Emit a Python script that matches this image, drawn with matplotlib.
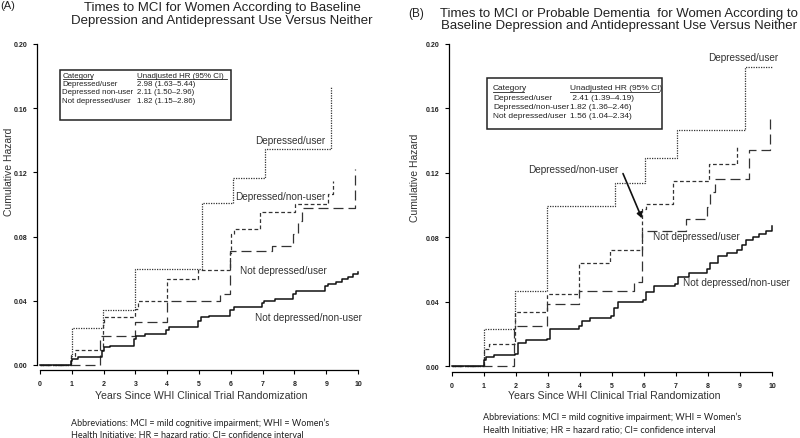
import matplotlib
matplotlib.use("Agg")
import matplotlib.pyplot as plt

plt.rcParams['font.family'] = ['Liberation Sans', 'DejaVu Sans']

W, H = 800, 439

# ---------------- data: panel A ----------------
a_dep_user_t = [0, 0.97, 1.0, 1.97, 2.99, 5.08, 6.08, 7.08, 9.14]
a_dep_user_h = [0, 0.006, 0.023, 0.0345, 0.0598, 0.1007, 0.1163, 0.1346, 0.1732]

a_dep_non_t = [0, 0.97, 1.1, 1.97, 2.02, 2.99, 3.08, 3.98, 4.98, 5.97, 6.02, 6.1, 6.92, 8.02, 9.06, 9.2]
a_dep_non_h = [0, 0.0058, 0.0095, 0.025, 0.030, 0.0349, 0.040, 0.0536, 0.0594, 0.070, 0.0816, 0.0847, 0.0955, 0.1001, 0.1065, 0.1148]

a_nd_user_t = [0, 1.89, 2.99, 3.98, 5.66, 5.97, 7.29, 7.97, 8.11, 8.23, 9.91]
a_nd_user_h = [0, 0.0183, 0.0266, 0.040, 0.0442, 0.0712, 0.0743, 0.0816, 0.090, 0.098, 0.122]

a_nd_non_t = [0, 0.97, 1.0, 1.2, 1.96, 2.0, 2.2, 2.97, 3.03, 3.3, 3.97, 4.05, 4.98, 5.05, 5.3,
              5.99, 6.1, 6.99, 7.05, 7.4, 7.97, 8.05, 8.97, 9.05, 9.3, 9.5, 9.7, 9.85, 10.0]
a_nd_non_h = [0, 0.0025, 0.0037, 0.0048, 0.0085, 0.0110, 0.0120, 0.0160, 0.0179, 0.0193, 0.0215, 0.0235,
              0.0275, 0.0297, 0.0307, 0.0340, 0.0360, 0.0385, 0.0401, 0.0411, 0.0445, 0.0463, 0.0490,
              0.0505, 0.0520, 0.0536, 0.0550, 0.0565, 0.0578]

# ---------------- data: panel B ----------------
b_dep_user_t = [0, 0.99, 1.98, 2.97, 5.1, 6.04, 7.03, 9.17, 10.0]
b_dep_user_h = [0, 0.023, 0.0468, 0.0996, 0.1137, 0.129, 0.1468, 0.186, 0.186]

b_dep_non_t = [0, 0.99, 1.15, 1.98, 2.97, 3.96, 4.95, 5.94, 6.05, 6.9, 8.02, 8.9]
b_dep_non_h = [0, 0.0106, 0.0137, 0.0337, 0.0447, 0.064, 0.0723, 0.0975, 0.1006, 0.115, 0.1255, 0.136]

b_nd_user_t = [0, 1.93, 2.97, 3.96, 5.68, 5.94, 7.3, 7.97, 8.07, 8.23, 9.27, 9.95]
b_nd_user_h = [0, 0.025, 0.0385, 0.0468, 0.052, 0.084, 0.0913, 0.0986, 0.108, 0.116, 0.134, 0.155]

b_nd_non_t = [0, 0.99, 1.05, 1.3, 1.98, 2.05, 2.3, 2.97, 3.05, 3.97, 4.05, 4.3, 4.97, 5.05, 5.2,
              5.97, 6.05, 6.3, 6.97, 7.05, 7.4, 7.97, 8.05, 8.3, 8.6, 8.9, 9.05, 9.2, 9.4, 9.6, 9.8, 10.0]
b_nd_non_h = [0, 0.004, 0.0054, 0.0070, 0.0075, 0.0140, 0.0160, 0.0170, 0.0230, 0.0246, 0.028, 0.030,
              0.031, 0.036, 0.0395, 0.041, 0.046, 0.050, 0.051, 0.055, 0.058, 0.060, 0.064, 0.0685,
              0.070, 0.072, 0.075, 0.078, 0.080, 0.082, 0.084, 0.087]

x_ticks = list(range(0, 11))
y_ticks = [0.00, 0.04, 0.08, 0.12, 0.16, 0.20]
y_tick_labels = ['0.00', '0.04', '0.08', '0.12', '0.16', '0.20']

titles = [
    ("(A)", "Times to MCI for Women According to Baseline\nDepression and Antidepressant Use Versus Neither"),
    ("(B)", "Times to MCI or Probable Dementia  for Women According to\nBaseline Depression and Antidepressant Use Versus Neither"),
]
legend_rows = [
    [("Category", "Unadjusted HR (95% CI)"),
     ("Depressed/user", "2.98 (1.63\u20135.44)"),
     ("Depressed non-user", "2.11 (1.50\u20132.96)"),
     ("Not depressed/user", "1.82 (1.15\u20132.86)")],
    [("Category", "Unadjusted HR (95% CI)"),
     ("Depressed/user", " 2.41 (1.39\u20134.19)"),
     ("Depressed/non-user", "1.82 (1.36\u20132.46)"),
     ("Not depressed/user", "1.56 (1.04\u20132.34)")],
]
curve_labels = ["Depressed/user", "Depressed/non-user", "Not depressed/user", "Not depressed/non-user"]
xlabel = "Years Since WHI Clinical Trial Randomization"
ylabel = "Cumulative Hazard"
abbrev = "Abbreviations: MCI = mild cognitive impairment; WHI = Women\u2019s\nHealth Initiative; HR = hazard ratio; CI= confidence interval"

fig = plt.figure(figsize=(W / 100, H / 100), dpi=100)


def make_axes(x0px, x10px, y0px, y20px, spine_x, spine_y):
    ppx = (x10px - x0px) / 10.0
    ppy = (y0px - y20px) / 0.2
    xmin = -(x0px - spine_x) / ppx
    ymin = -(spine_y - y0px) / ppy
    xmax, ymax = 10.12, 0.205
    left = spine_x
    right = x0px + xmax * ppx
    bottom = spine_y
    top = y0px - ymax * ppy
    ax = fig.add_axes([left / W, 1 - bottom / H, (right - left) / W, (bottom - top) / H])
    ax.set_xlim(xmin, xmax)
    ax.set_ylim(ymin, ymax)
    ax.patch.set_alpha(0)
    for s in ['top', 'right']:
        ax.spines[s].set_visible(False)
    ax.spines['left'].set_bounds(0, 0.2)
    ax.spines['bottom'].set_bounds(0, 10)
    for s in ['left', 'bottom']:
        ax.spines[s].set_linewidth(0.9)
    ax.set_xticks(x_ticks)
    ax.set_xticklabels([str(v) for v in x_ticks], fontsize=5, fontweight='bold', color='#222222')
    ax.set_yticks(y_ticks)
    ax.set_yticklabels(y_tick_labels, fontsize=5, fontweight='bold', color='#222222')
    ax.tick_params(axis='both', direction='out', length=3, width=0.8, pad=4)
    return ax


def draw(ax, data):
    styles = [
        dict(color='#333333', lw=0.9, linestyle=(0, (1, 1))),
        dict(color='#333333', lw=0.9, linestyle=(0, (3, 2))),
        dict(color='#333333', lw=0.9, linestyle=(0, (8, 4))),
        dict(color='#111111', lw=1.1, linestyle='-'),
    ]
    for (t, h), st in zip(data, styles):
        ax.step(t, h, where='post', **st)


axA = make_axes(40, 358, 366, 45, 37, 371)
draw(axA, [(a_dep_user_t, a_dep_user_h), (a_dep_non_t, a_dep_non_h),
           (a_nd_user_t, a_nd_user_h), (a_nd_non_t, a_nd_non_h)])
axB = make_axes(452, 772, 367, 45, 449, 373)
draw(axB, [(b_dep_user_t, b_dep_user_h), (b_dep_non_t, b_dep_non_h),
           (b_nd_user_t, b_nd_user_h), (b_nd_non_t, b_nd_non_h)])


def ftext(xpx, ypx, s, **kw):
    return fig.text(xpx / W, 1 - ypx / H, s, **kw)


# titles
ftext(0, 6, titles[0][0], fontsize=8, va='center', ha='left', color='#222222')
ftext(222, 14.5, titles[0][1], fontsize=9.5, va='center', ha='center', linespacing=1.15, color='#222222')
ftext(408, 14, titles[1][0], fontsize=8.5, va='center', ha='left', color='#222222')
ftext(619, 19.5, titles[1][1], fontsize=9.5, va='center', ha='center', linespacing=1.0, color='#222222')

# axis labels
ftext(9, 172, ylabel, fontsize=7.5, rotation=90, va='center', ha='center', color='#333333')
ftext(415, 178, ylabel, fontsize=7.5, rotation=90, va='center', ha='center', color='#333333')
ftext(201, 396, xlabel, fontsize=7.6, ha='center', va='center', color='#333333')
ftext(614, 396, xlabel, fontsize=7.6, ha='center', va='center', color='#333333')

# abbreviations
ftext(71, 429, abbrev, fontsize=6.5, ha='left', va='center', family=['Lato', 'DejaVu Sans'],
      linespacing=1.45, color='#222222')
ftext(483, 423.5, abbrev, fontsize=6.5, ha='left', va='center', family=['Lato', 'DejaVu Sans'],
      linespacing=1.45, color='#222222')


# legend boxes
def legend_box(x0, y0, x1, y1, rows, col1, col2, row_y, fs, ul):
    r = plt.Rectangle((x0 / W, 1 - y1 / H), (x1 - x0) / W, (y1 - y0) / H, transform=fig.transFigure,
                      fill=False, lw=1.1, ec='#222222')
    fig.add_artist(r)
    for i, (a, b) in enumerate(rows):
        yy = row_y[i]
        ftext(col1, yy, a, fontsize=fs, va='center', ha='left', color='#222222')
        ftext(col2, yy, b, fontsize=fs, va='center', ha='left', color='#222222')
    for (u0, u1) in ul:
        yy = row_y[0] + 3.6
        fig.add_artist(plt.Line2D([u0 / W, u1 / W], [1 - yy / H, 1 - yy / H], transform=fig.transFigure,
                                  lw=0.6, color='#222222'))


legend_box(60, 71, 231, 121, legend_rows[0], 62.5, 137, [76.5, 84.5, 93, 101.5], 5.7,
           [(62.5, 92), (137, 227)])
legend_box(487, 79, 662, 130, legend_rows[1], 493, 570, [89, 98, 107.5, 117], 6,
           [(493, 524), (570, 659)])

# curve labels panel A
fs_c = 7.2
axA.text(6.76, 0.140, curve_labels[0], fontsize=fs_c, ha='left', va='center', color='#333333')
axA.text(6.13, 0.1053, curve_labels[1], fontsize=fs_c, ha='left', va='center', color='#333333')
axA.text(6.29, 0.0592, curve_labels[2], fontsize=fs_c, ha='left', va='center', color='#333333')
axA.text(6.76, 0.0299, curve_labels[3], fontsize=fs_c, ha='left', va='center', color='#333333')

# curve labels panel B
axB.text(8.0, 0.192, curve_labels[0], fontsize=fs_c, ha='left', va='center', color='#333333')
axB.text(2.375, 0.1224, curve_labels[1], fontsize=fs_c, ha='left', va='center', color='#333333')
axB.annotate("", xy=(5.97, 0.0901), xytext=(5.31, 0.1211),
             arrowprops=dict(arrowstyle='-|>', color='#111111', lw=1.2, mutation_scale=8))
axB.text(6.28, 0.0807, curve_labels[2], fontsize=fs_c, ha='left', va='center', color='#333333')
axB.text(7.22, 0.0522, curve_labels[3], fontsize=fs_c, ha='left', va='center', color='#333333',
         clip_on=False)

fig.savefig("out.png", dpi=100)
